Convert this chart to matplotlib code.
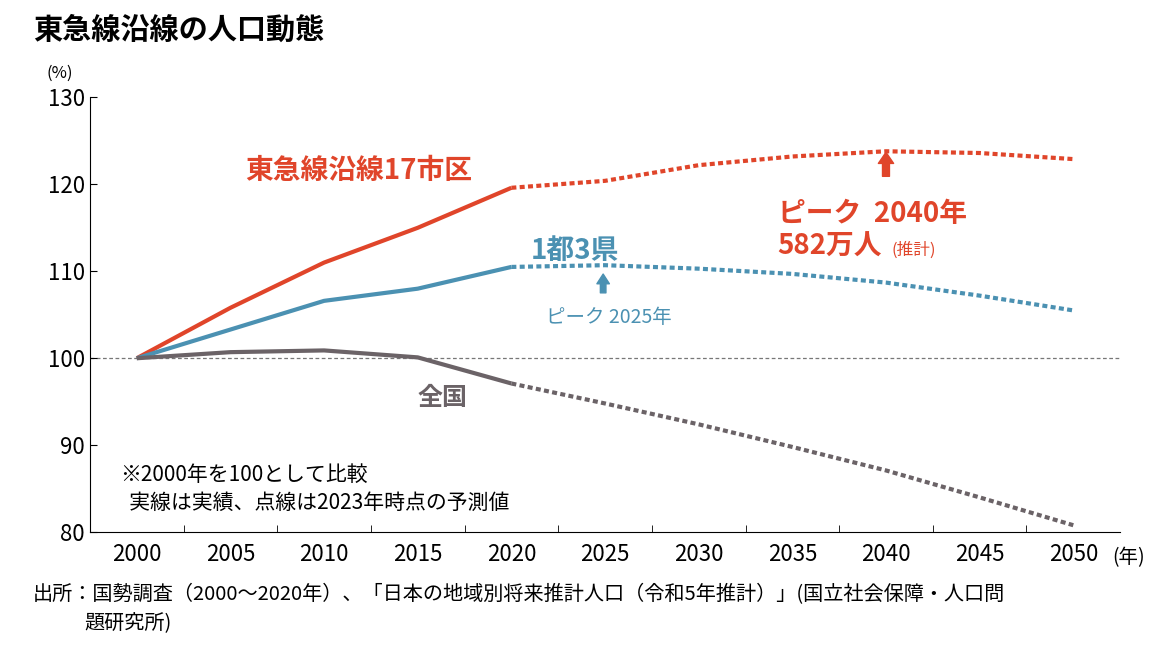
import matplotlib
matplotlib.use("Agg")
import matplotlib.pyplot as plt

plt.rcParams['font.family'] = ['Noto Sans CJK JP', 'DejaVu Sans']

years = [2000, 2005, 2010, 2015, 2020, 2025, 2030, 2035, 2040, 2045, 2050]
tokyu = [100, 105.8, 111.0, 115.0, 119.6, 120.4, 122.2, 123.2, 123.8, 123.6, 122.9]
metro = [100, 103.3, 106.6, 108.0, 110.5, 110.7, 110.3, 109.7, 108.7, 107.2, 105.5]
nation = [100, 100.7, 100.9, 100.1, 97.1, 94.8, 92.4, 89.8, 87.1, 84.0, 80.8]
yticks = [80, 90, 100, 110, 120, 130]

RED, BLUE, GRAY = '#e0452a', '#4b91b2', '#6b6367'
fig = plt.figure(figsize=(11.68, 6.49), dpi=100)
ax = fig.add_axes([0.077, 0.180, 0.882, 0.670])
n = 5  # index of 2020
for vals, c in [(tokyu, RED), (metro, BLUE), (nation, GRAY)]:
    ax.plot(years[:n], vals[:n], color=c, lw=3, solid_capstyle='butt')
    ax.plot(years[n-1:], vals[n-1:], color=c, lw=3, ls=(0, (1.2, 0.8)))
ax.axhline(100, color='#777777', lw=0.9, ls=(0, (3, 2)), zorder=0)
ax.set_xlim(1997.5, 2052.5)
ax.set_ylim(80, 130)
ax.set_yticks(yticks)
ax.set_xticks(years)
ax.set_xticklabels([str(y) for y in years])
ax.set_xticks([2002.5 + 5*k for k in range(10)], minor=True)
ax.tick_params(axis='x', which='major', length=0, labelsize=16, pad=8)
ax.tick_params(axis='x', which='minor', length=5, direction='in')
ax.tick_params(axis='y', labelsize=16, length=5, direction='in')
for s in ['top', 'right']:
    ax.spines[s].set_visible(False)
ax.text(2052.1, 78.3, '(年)', fontsize=14, va='top', ha='left', clip_on=False)

ax.text(2017.9, 120.6, '東急線沿線17市区', color=RED, fontsize=20, fontweight='bold', ha='right')
ax.text(2039.3, 115.7, 'ピーク  2040年', color=RED, fontsize=20, fontweight='bold', ha='center')
ax.text(2037.0, 111.9, '582万人', color=RED, fontsize=20, fontweight='bold', ha='center')
ax.text(2040.3, 111.9, '(推計)', color=RED, fontsize=12, ha='left')
ax.annotate('', xy=(2040, 124.0), xytext=(2040, 120.6),
            arrowprops=dict(arrowstyle='simple,head_width=1.1,head_length=0.8,tail_width=0.5', color=RED))
ax.text(2023.4, 111.4, '1都3県', color=BLUE, fontsize=20, fontweight='bold', ha='center')
ax.annotate('', xy=(2024.9, 110.0), xytext=(2024.9, 107.2),
            arrowprops=dict(arrowstyle='simple,head_width=0.9,head_length=0.7,tail_width=0.4', color=BLUE))
ax.text(2025.2, 104.0, 'ピーク 2025年', color=BLUE, fontsize=14, ha='center')
ax.text(2016.3, 94.6, '全国', color=GRAY, fontsize=18, fontweight='bold', ha='center')
ax.text(1999.1, 87.8, '※2000年を100として比較\n  実線は実績、点線は2023年時点の予測値', fontsize=15, va='top', linespacing=1.35)

fig.text(0.028, 0.940, '東急線沿線の人口動態', fontsize=21, fontweight='bold')
fig.text(0.040, 0.880, '(%)', fontsize=12)
fig.text(0.028, 0.075, '出所：国勢調査（2000〜2020年）、「日本の地域別将来推計人口（令和5年推計）」(国立社会保障・人口問', fontsize=14.5)
fig.text(0.072, 0.030, '題研究所)', fontsize=14.5)
fig.savefig('out.png', dpi=100)
